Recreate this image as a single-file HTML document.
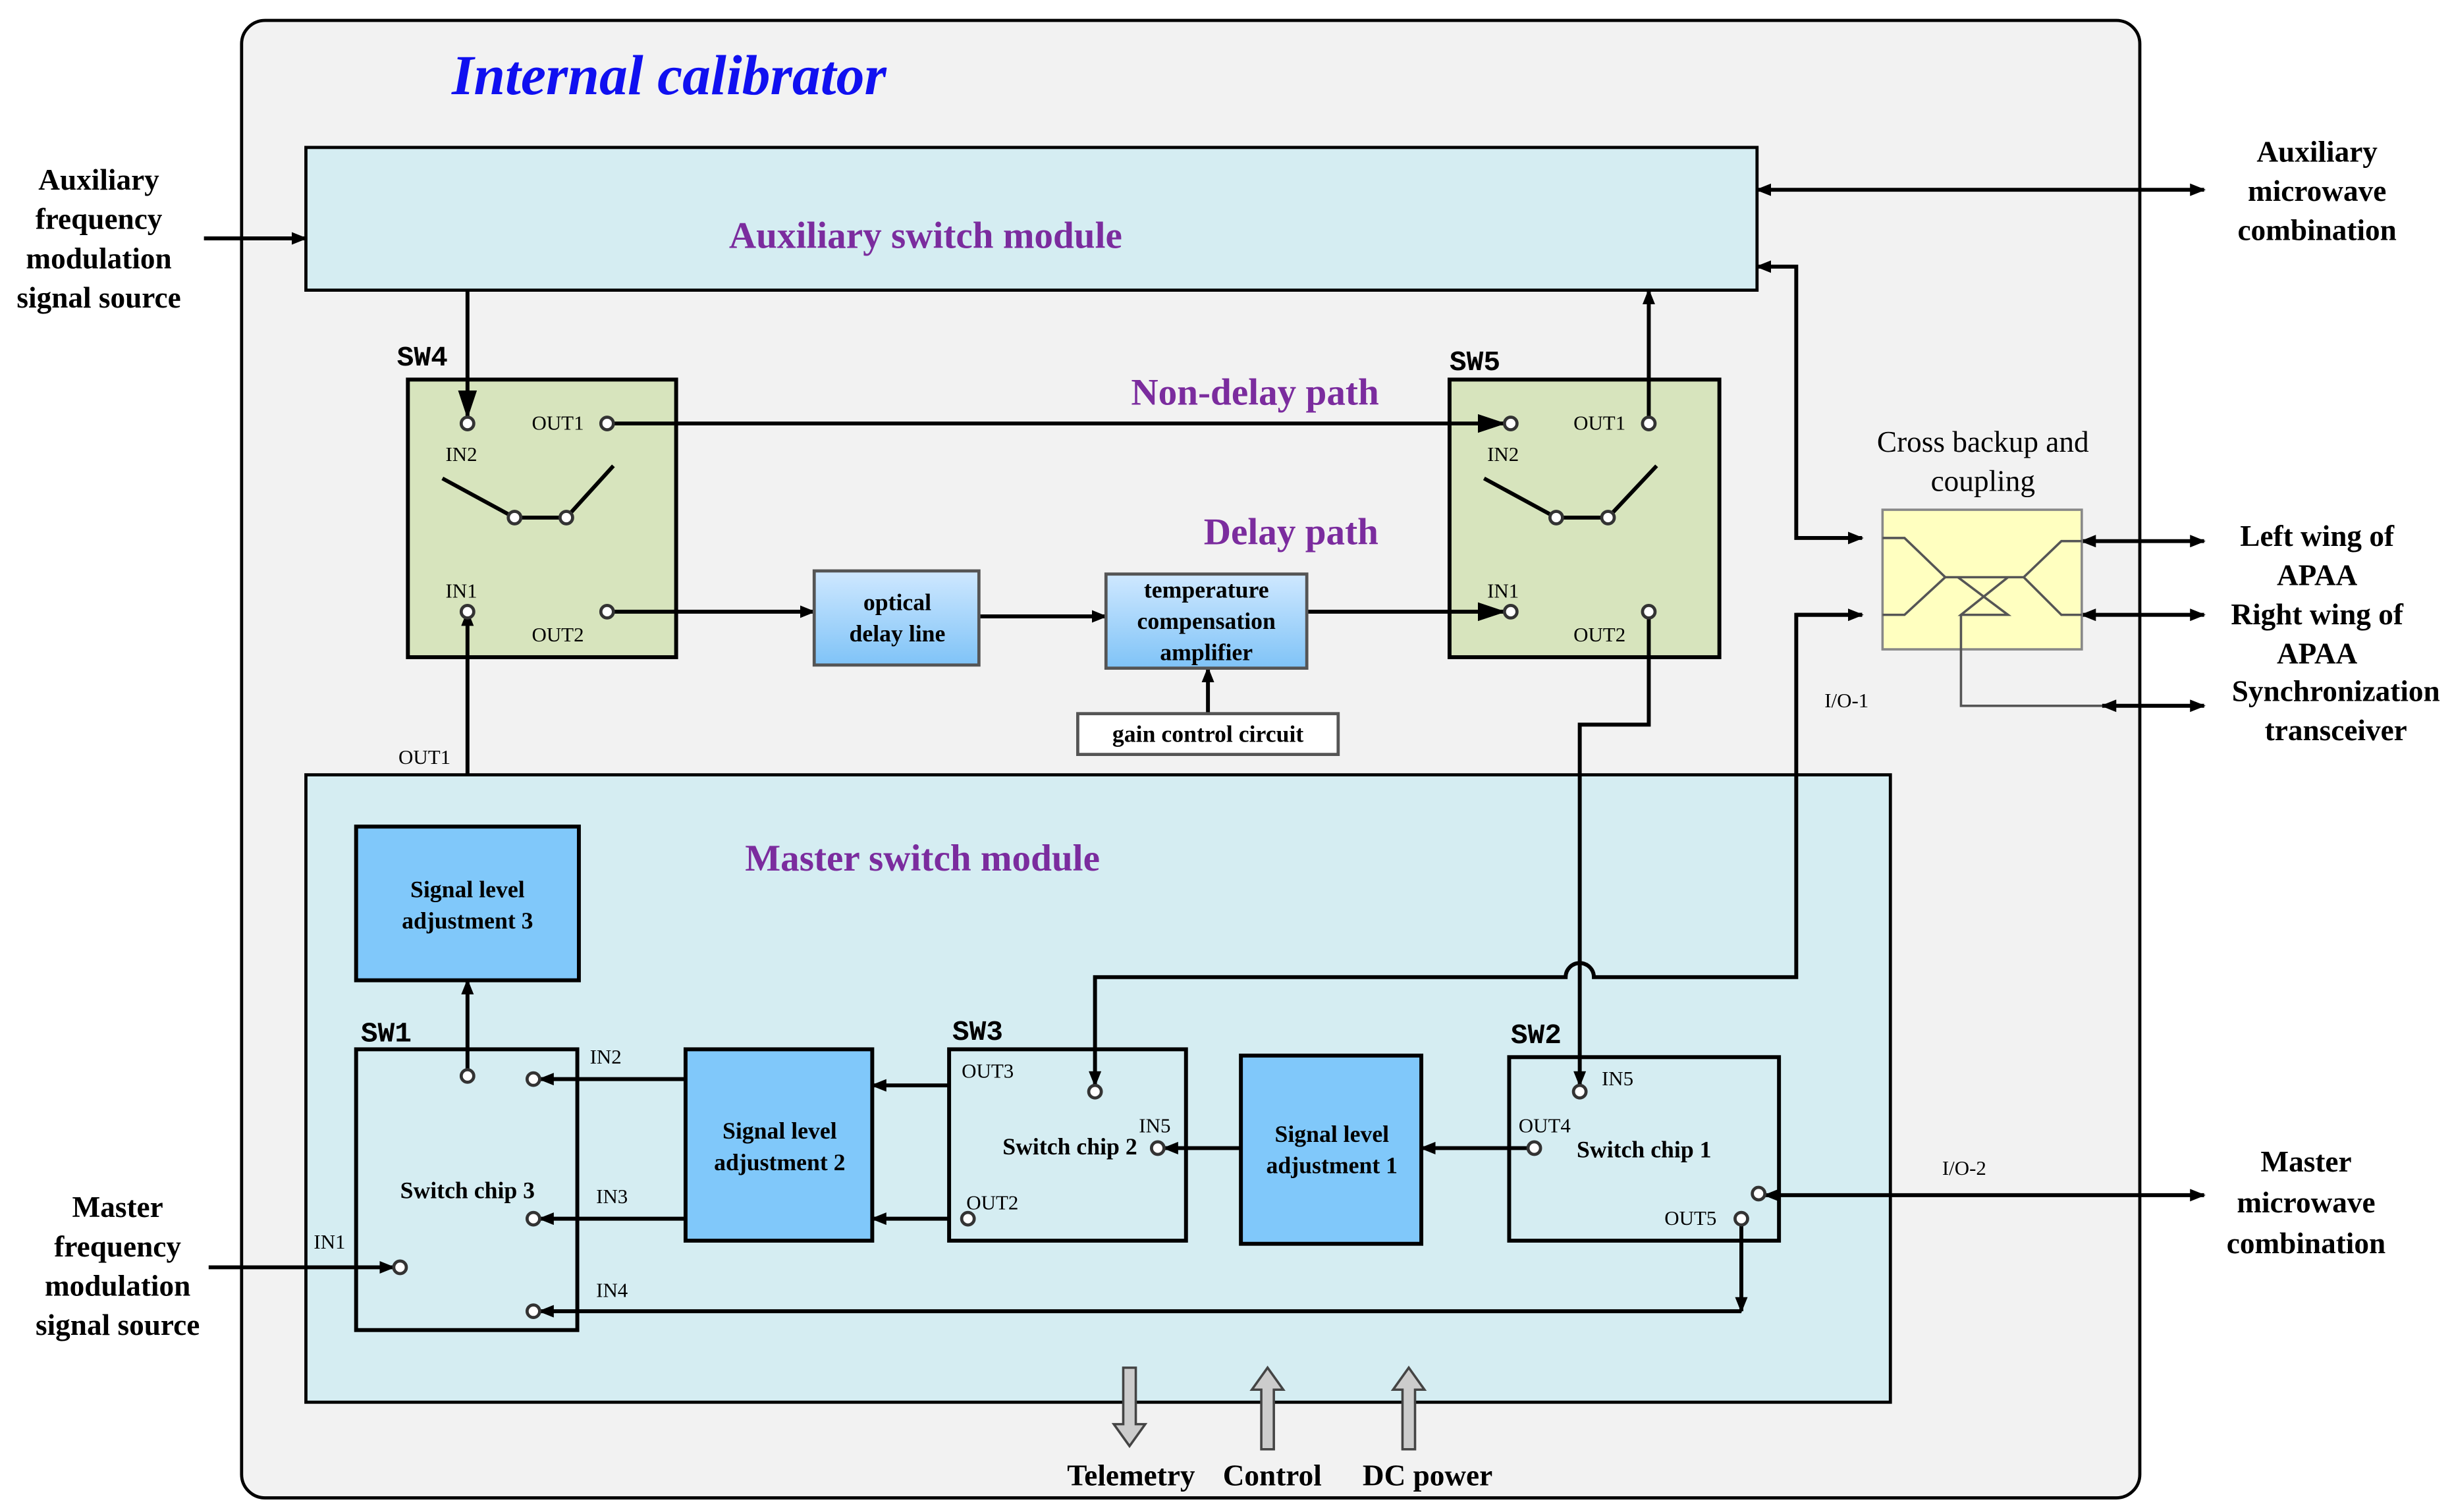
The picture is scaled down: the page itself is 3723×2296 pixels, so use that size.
<!DOCTYPE html>
<html><head><meta charset="utf-8"><style>
html,body{margin:0;padding:0;background:#fff;}
svg{display:block;}
text{font-family:"Liberation Serif",serif;}
.b{font-weight:bold;font-size:19px;text-anchor:middle;}
.m{font-family:"Liberation Mono",monospace;font-size:13px;}
.p{fill:#7b2c9e;font-weight:bold;font-size:24px;text-anchor:middle;}
.bx{font-weight:bold;font-size:15px;text-anchor:middle;}
.sw{font-family:"Liberation Mono",monospace;font-weight:bold;font-size:18px;}
</style></head><body>
<svg width="3723" height="2296" viewBox="0 0 1563 964" preserveAspectRatio="none" xmlns="http://www.w3.org/2000/svg">
<defs>
<marker id="a" markerWidth="10" markerHeight="8" refX="9" refY="4" orient="auto" markerUnits="userSpaceOnUse"><path d="M0,0L10,4L0,8z" fill="#000"/></marker>
<marker id="s" markerWidth="10" markerHeight="8" refX="1" refY="4" orient="auto" markerUnits="userSpaceOnUse"><path d="M10,0L0,4L10,8z" fill="#000"/></marker>
<marker id="A" markerWidth="18" markerHeight="12" refX="17" refY="6" orient="auto" markerUnits="userSpaceOnUse"><path d="M0,0L18,6L0,12z" fill="#000"/></marker>
<linearGradient id="g" x1="0" y1="0" x2="0" y2="1"><stop offset="0" stop-color="#cfe8ff"/><stop offset="1" stop-color="#7fc3f7"/></linearGradient>
</defs>
<rect x="154" y="13" width="1210" height="942" rx="15" fill="#f2f2f2" stroke="#000" stroke-width="2"/>
<text x="288" y="60" font-size="36" font-weight="bold" font-style="italic" fill="#1010f0">Internal calibrator</text>
<rect x="195" y="94" width="925" height="91" fill="#d5edf2" stroke="#000" stroke-width="2"/>
<text x="590" y="158" class="p">Auxiliary switch module</text>
<g class="b"><text x="63" y="121">Auxiliary</text><text x="63" y="146">frequency</text><text x="63" y="171">modulation</text><text x="63" y="196">signal source</text>
<text x="1477" y="103">Auxiliary</text><text x="1477" y="128">microwave</text><text x="1477" y="153">combination</text>
<text x="1477" y="348">Left wing of</text><text x="1477" y="373">APAA</text><text x="1477" y="398">Right wing of</text><text x="1477" y="423">APAA</text><text x="1489" y="447">Synchronization</text><text x="1489" y="472">transceiver</text>
<text x="75" y="776">Master</text><text x="75" y="801">frequency</text><text x="75" y="826">modulation</text><text x="75" y="851">signal source</text>
<text x="1470" y="747">Master</text><text x="1470" y="773">microwave</text><text x="1470" y="799">combination</text>
<text x="721" y="947">Telemetry</text><text x="811" y="947">Control</text><text x="910" y="947">DC power</text></g>
<g stroke="#000" stroke-width="2.5" fill="none">
<line x1="130" y1="152" x2="195" y2="152" marker-end="url(#a)"/>
<line x1="1120" y1="121" x2="1405" y2="121" marker-start="url(#s)" marker-end="url(#a)"/>
</g>
<rect x="260" y="242" width="171" height="177" fill="#d7e4bd" stroke="#000" stroke-width="2.5"/>
<rect x="924" y="242" width="172" height="177" fill="#d7e4bd" stroke="#000" stroke-width="2.5"/>
<text x="253" y="233" class="sw">SW4</text><text x="924" y="236" class="sw">SW5</text>
<g stroke="#000" stroke-width="2.5" fill="none">
<polyline points="282,305 328,330 361,330 391,297"/>
<polyline points="946,305 992,330 1025,330 1056,297"/>
<line x1="298" y1="185" x2="298" y2="266" marker-end="url(#A)"/>
<line x1="387" y1="270" x2="959" y2="270" marker-end="url(#A)"/>
<line x1="1051" y1="270" x2="1051" y2="185" marker-end="url(#a)"/>
<line x1="387" y1="390" x2="519" y2="390" marker-end="url(#a)"/>
<line x1="624" y1="393" x2="705" y2="393" marker-end="url(#a)"/>
<line x1="833" y1="390" x2="959" y2="390" marker-end="url(#A)"/>
<line x1="770" y1="455" x2="770" y2="426" marker-end="url(#a)"/>
<line x1="298" y1="527" x2="298" y2="390" marker-end="url(#a)"/>
</g>
<text x="800" y="258" class="p">Non-delay path</text>
<text x="823" y="347" class="p">Delay path</text>
<g class="m"><text x="284" y="294">IN2</text><text x="339" y="274">OUT1</text><text x="284" y="381">IN1</text><text x="339" y="409">OUT2</text>
<text x="948" y="294">IN2</text><text x="1003" y="274">OUT1</text><text x="948" y="381">IN1</text><text x="1003" y="409">OUT2</text>
<text x="254" y="487">OUT1</text><text x="1163" y="451">I/O-1</text><text x="1238" y="749">I/O-2</text></g>
<rect x="519" y="364" width="105" height="60" fill="url(#g)" stroke="#555" stroke-width="2"/>
<text x="572" y="389" class="bx">optical</text><text x="572" y="409" class="bx">delay line</text>
<rect x="705" y="366" width="128" height="60" fill="url(#g)" stroke="#555" stroke-width="2"/>
<text x="769" y="381" class="bx">temperature</text><text x="769" y="401" class="bx">compensation</text><text x="769" y="421" class="bx">amplifier</text>
<rect x="687" y="455" width="166" height="26" fill="#fff" stroke="#555" stroke-width="2"/>
<text x="770" y="473" class="bx">gain control circuit</text>
<rect x="195" y="494" width="1010" height="400" fill="#d5edf2" stroke="#000" stroke-width="2"/>
<text x="588" y="555" class="p">Master switch module</text>
<g fill="#80c8fa" stroke="#000" stroke-width="2.5">
<rect x="227" y="527" width="142" height="98"/><rect x="437" y="669" width="119" height="122"/><rect x="791" y="673" width="115" height="120"/></g>
<text x="298" y="572" class="bx">Signal level</text><text x="298" y="592" class="bx">adjustment 3</text>
<text x="497" y="726" class="bx">Signal level</text><text x="497" y="746" class="bx">adjustment 2</text>
<text x="849" y="728" class="bx">Signal level</text><text x="849" y="748" class="bx">adjustment 1</text>
<g fill="#d5edf2" stroke="#000" stroke-width="2.5">
<rect x="227" y="669" width="141" height="179"/><rect x="605" y="669" width="151" height="122"/><rect x="962" y="674" width="172" height="117"/></g>
<text x="230" y="664" class="sw">SW1</text><text x="607" y="663" class="sw">SW3</text><text x="963" y="665" class="sw">SW2</text>
<text x="298" y="764" class="bx">Switch chip 3</text><text x="682" y="736" class="bx">Switch chip 2</text><text x="1048" y="738" class="bx">Switch chip 1</text>
<g class="m"><text x="376" y="678">IN2</text><text x="380" y="767">IN3</text><text x="200" y="796">IN1</text><text x="380" y="827">IN4</text>
<text x="613" y="687">OUT3</text><text x="726" y="722">IN5</text><text x="616" y="771">OUT2</text>
<text x="1021" y="692">IN5</text><text x="968" y="722">OUT4</text><text x="1061" y="781">OUT5</text></g>
<g stroke="#000" stroke-width="2.5" fill="none">
<line x1="298" y1="686" x2="298" y2="625" marker-end="url(#a)"/>
<line x1="437" y1="688" x2="344" y2="688" marker-end="url(#a)"/>
<line x1="437" y1="777" x2="344" y2="777" marker-end="url(#a)"/>
<line x1="605" y1="692" x2="556" y2="692" marker-end="url(#a)"/>
<line x1="605" y1="777" x2="556" y2="777" marker-end="url(#a)"/>
<line x1="791" y1="732" x2="742" y2="732" marker-end="url(#a)"/>
<line x1="978" y1="732" x2="906" y2="732" marker-end="url(#a)"/>
<line x1="133" y1="808" x2="251" y2="808" marker-end="url(#a)"/>
<polyline points="1051,390 1051,462 1007,462 1007,692" marker-end="url(#a)"/>
<path d="M1187,392 H1145 V623 H1016 A9,9 0 0 0 998,623 H698 V692" marker-end="url(#a)"/>
<line x1="1145" y1="392" x2="1187" y2="392" marker-end="url(#a)"/>
<polyline points="1120,170 1145,170 1145,343 1187,343" marker-start="url(#s)" marker-end="url(#a)"/>
<line x1="1125" y1="762" x2="1405" y2="762" marker-start="url(#s)" marker-end="url(#a)"/>
<polyline points="1110,777 1110,836" marker-end="url(#a)"/>
<line x1="1110" y1="836" x2="344" y2="836" marker-end="url(#a)"/>
<line x1="1327" y1="345" x2="1405" y2="345" marker-start="url(#s)" marker-end="url(#a)"/>
<line x1="1327" y1="392" x2="1405" y2="392" marker-start="url(#s)" marker-end="url(#a)"/>
<line x1="1340" y1="450" x2="1405" y2="450" marker-start="url(#s)" marker-end="url(#a)"/>
</g>
<text x="1264" y="288" font-size="19" text-anchor="middle">Cross backup and</text>
<text x="1264" y="313" font-size="19" text-anchor="middle">coupling</text>
<rect x="1200" y="325" width="127" height="89" fill="#ffffc0" stroke="#888" stroke-width="1.5"/>
<g stroke="#555" stroke-width="1.5" fill="none">
<polyline points="1200,343 1214,343 1240,368 1290,368 1314,345 1327,345"/>
<polyline points="1200,392 1214,392 1240,368"/>
<polyline points="1290,368 1314,392 1327,392"/>
<polyline points="1248,368 1280,392 1250,392 1280,368"/>
<polyline points="1250,392 1250,450 1340,450"/>
</g>
<g fill="#fff" stroke="#333" stroke-width="2">
<circle cx="298" cy="270" r="4"/><circle cx="387" cy="270" r="4"/><circle cx="298" cy="390" r="4"/><circle cx="387" cy="390" r="4"/>
<circle cx="328" cy="330" r="4"/><circle cx="361" cy="330" r="4"/>
<circle cx="963" cy="270" r="4"/><circle cx="1051" cy="270" r="4"/><circle cx="963" cy="390" r="4"/><circle cx="1051" cy="390" r="4"/>
<circle cx="992" cy="330" r="4"/><circle cx="1025" cy="330" r="4"/>
<circle cx="298" cy="686" r="4"/><circle cx="340" cy="688" r="4"/><circle cx="340" cy="777" r="4"/><circle cx="255" cy="808" r="4"/><circle cx="340" cy="836" r="4"/>
<circle cx="698" cy="696" r="4"/><circle cx="738" cy="732" r="4"/><circle cx="617" cy="777" r="4"/>
<circle cx="1007" cy="696" r="4"/><circle cx="978" cy="732" r="4"/><circle cx="1121" cy="761" r="4"/><circle cx="1110" cy="777" r="4"/>
</g>
<g fill="#ccc" stroke="#444" stroke-width="1.5">
<path d="M716,872 H724 V908 H730 L720,922 L710,908 H716 Z"/>
<path d="M804,924 H812 V886 H818 L808,872 L798,886 H804 Z"/>
<path d="M894,924 H902 V886 H908 L898,872 L888,886 H894 Z"/>
</g>
</svg>
</body></html>
